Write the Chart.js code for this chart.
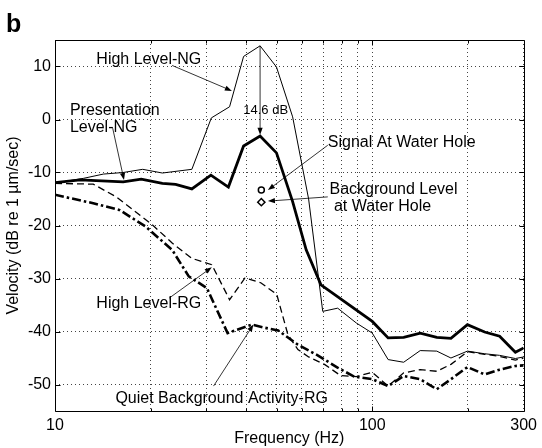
<!DOCTYPE html>
<html><head><meta charset="utf-8">
<script src="https://cdn.jsdelivr.net/npm/chart.js@4/dist/chart.umd.min.js"></script>
<style>html,body{margin:0;padding:0;background:#fff;} canvas{display:block;}</style>
</head><body>
<canvas id="c" width="542" height="448"></canvas>
<script>
// ---- axis ticks ----
const xTickValues = [10, 20, 30, 40, 50, 60, 70, 80, 90, 100, 200, 300];
const xTickLabels = {10: '10', 100: '100', 300: '300'};
const yTickValues = [-50, -40, -30, -20, -10, 0, 10];

// ---- High Level-NG (thin solid) ----
const hlngFreq = [10, 12.3, 14.2, 16.4, 18.9, 21.8, 27.0, 31.1, 35.5, 39.3, 44.3, 49.9, 56.1, 63.0, 69.8, 77.8, 89.1, 100, 112.2, 125.6, 141.6, 159.7, 177, 199.5, 226, 252, 282.5, 300];
const hlngDb   = [-12.0, -11.1, -10.3, -10.0, -9.4, -10.1, -9.4, 0.3, 2.4, 11.9, 13.9, 9.9, 0.5, -15.0, -36.2, -35.6, -38.4, -40.3, -45.3, -45.8, -43.6, -43.7, -45.0, -43.7, -44.2, -44.5, -45.1, -44.8];

// ---- Presentation Level-NG (thick solid) ----
const plngFreq = [10, 12.0, 16.4, 18.7, 21.8, 24.0, 27.0, 31.0, 35.2, 39.3, 44.3, 49.9, 56.1, 61.9, 68.9, 77.7, 100, 112.2, 125.6, 141.6, 159.7, 177, 199.5, 226, 252, 282.5, 300];
const plngDb   = [-11.9, -11.4, -11.75, -11.25, -12.05, -12.25, -13.1, -10.5, -12.75, -5.0, -3.1, -6.3, -15.5, -24.6, -31.2, -33.4, -38.1, -41.2, -41.1, -40.3, -41.1, -41.3, -38.7, -40.1, -40.9, -43.9, -43.1];

// ---- High Level-RG (dashed) ----
const hlrgFreq = [10, 13.2, 15.6, 20.3, 23.4, 27.0, 31.2, 35.5, 39.7, 44.5, 50.0, 54.2, 58.3, 63.0, 70.7, 79.4, 89.1, 100, 112.2, 125.6, 141.6, 159.7, 177, 199.5, 226, 252, 282.5, 300];
const hlrgDb   = [-12.05, -12.2, -14.6, -19.9, -23.3, -26.2, -27.4, -34.0, -29.9, -30.8, -33.0, -40.6, -43.4, -44.8, -46.2, -48.3, -48.5, -47.7, -50.3, -47.8, -47.2, -47.5, -46.2, -43.8, -44.3, -44.7, -45.4, -45.0];

// ---- Quiet Background Activity-RG (thick dash-dot) ----
const qbrgFreq = [10, 13.2, 16.0, 19.3, 23.4, 26.4, 30.1, 35.0, 41.7, 45.9, 50.5, 58.3, 67.3, 77.7, 87.6, 100, 112.2, 125.6, 141.6, 159.7, 177, 199.5, 226, 252, 282.5, 300];
const qbrgDb   = [-14.2, -15.8, -17.1, -20.2, -24.6, -29.6, -31.8, -40.3, -38.7, -39.3, -39.8, -42.5, -44.5, -46.8, -48.5, -49.0, -50.3, -48.4, -49.0, -50.9, -49.0, -46.7, -48.1, -47.2, -46.5, -46.4];

// ---- Water hole markers ----
const signalFreq = [44.7];
const signalDb = [-13.3];
const bgFreq = [44.7];
const bgDb = [-15.6];

const toXY = (fs, ds) => fs.map((f, i) => ({x: f, y: ds[i]}));

const FONT = "'Liberation Sans', Arial, Helvetica, sans-serif";
Chart.defaults.font.family = FONT;
Chart.defaults.color = '#000';

// annotations in data coordinates
const notes = [
  {lines: ['High Level-NG'], f: 13.5, db: 11.3, size: 16},
  {lines: ['Presentation', 'Level-NG'], f: 11.14, db: 1.7, size: 16},
  {lines: ['14.6 dB'], f: 39.2, db: 1.7, size: 13},
  {lines: ['Signal At Water Hole'], f: 72.4, db: -4.3, size: 16},
  {lines: ['Background Level', ' at Water Hole'], f: 73.3, db: -13.3, size: 16},
  {lines: ['High Level-RG'], f: 13.5, db: -34.8, size: 16},
  {lines: ['Quiet Background Activity-RG'], f: 15.5, db: -52.7, size: 16}
];
const arrows = [
  {from: [23.4, 10.2], to: [36.1, 5.4]},
  {from: [15.2, -1.65], to: [16.5, -11.4]},
  {from: [44.3, 13.9], to: [44.3, -2.9]},
  {from: [72.4, -4.85], to: [46.9, -13.3]},
  {from: [72.4, -14.6], to: [46.9, -15.4]},
  {from: [22.9, -33.7], to: [31.2, -27.9]},
  {from: [31.6, -50.3], to: [42.2, -38.7]}
];

const overlay = {
  id: 'overlay',
  afterDraw(chart) {
    const {ctx, chartArea: a, scales: {x, y}} = chart;
    ctx.save();
    ctx.strokeStyle = '#000';
    ctx.lineWidth = 1;
    const L = Math.round(a.left) + 0.5, R = Math.round(a.right) + 0.5;
    const T = Math.round(a.top) + 0.5, B = Math.round(a.bottom) + 0.5;
    ctx.beginPath();
    ctx.rect(L, T, R - L, B - T);
    ctx.stroke();
    // inward ticks
    ctx.beginPath();
    yTickValues.forEach(v => {
      const py = Math.round(y.getPixelForValue(v)) + 0.5;
      ctx.moveTo(L, py); ctx.lineTo(L + 5, py);
      ctx.moveTo(R, py); ctx.lineTo(R - 5, py);
    });
    xTickValues.forEach(v => {
      const px = Math.round(x.getPixelForValue(v)) + 0.5;
      const len = xTickLabels[v] ? 5 : 3;
      ctx.moveTo(px, B); ctx.lineTo(px, B - len);
      ctx.moveTo(px, T); ctx.lineTo(px, T + len);
    });
    ctx.stroke();

    // arrows
    ctx.lineWidth = 0.8;
    ctx.fillStyle = '#000';
    arrows.forEach(ar => {
      const x1 = x.getPixelForValue(ar.from[0]), y1 = y.getPixelForValue(ar.from[1]);
      const x2 = x.getPixelForValue(ar.to[0]), y2 = y.getPixelForValue(ar.to[1]);
      const ang = Math.atan2(y2 - y1, x2 - x1);
      const hl = 7, hw = 2.6;
      ctx.beginPath();
      ctx.moveTo(x1, y1);
      ctx.lineTo(x2 - Math.cos(ang) * hl * 0.8, y2 - Math.sin(ang) * hl * 0.8);
      ctx.stroke();
      ctx.beginPath();
      ctx.moveTo(x2, y2);
      ctx.lineTo(x2 - Math.cos(ang) * hl - Math.sin(ang) * hw, y2 - Math.sin(ang) * hl + Math.cos(ang) * hw);
      ctx.lineTo(x2 - Math.cos(ang) * hl + Math.sin(ang) * hw, y2 - Math.sin(ang) * hl - Math.cos(ang) * hw);
      ctx.closePath();
      ctx.fill();
    });

    // text notes
    ctx.textAlign = 'left';
    ctx.textBaseline = 'middle';
    notes.forEach(n => {
      ctx.font = n.size + 'px ' + FONT;
      const px = x.getPixelForValue(n.f);
      const py = y.getPixelForValue(n.db);
      n.lines.forEach((t, i) => ctx.fillText(t, px, py + i * n.size * 1.05));
    });

    // panel letter
    ctx.font = 'bold 25px ' + FONT;
    ctx.textBaseline = 'alphabetic';
    ctx.fillText('b', 6, 31.5);
    ctx.restore();
  }
};

new Chart(document.getElementById('c'), {
  type: 'scatter',
  data: {
    datasets: [
      {label: 'High Level-NG', data: toXY(hlngFreq, hlngDb), showLine: true, borderColor: '#000', borderWidth: 1, pointRadius: 0, tension: 0},
      {label: 'Presentation Level-NG', data: toXY(plngFreq, plngDb), showLine: true, borderColor: '#000', borderWidth: 2.8, pointRadius: 0, tension: 0},
      {label: 'High Level-RG', data: toXY(hlrgFreq, hlrgDb), showLine: true, borderColor: '#000', borderWidth: 1.3, borderDash: [7, 4], pointRadius: 0, tension: 0},
      {label: 'Quiet Background Activity-RG', data: toXY(qbrgFreq, qbrgDb), showLine: true, borderColor: '#000', borderWidth: 2.6, borderDash: [9, 3, 2.5, 3], pointRadius: 0, tension: 0},
      {label: 'Signal At Water Hole', data: toXY(signalFreq, signalDb), pointStyle: 'circle', pointRadius: 3, borderColor: '#000', borderWidth: 1.5, backgroundColor: '#fff'},
      {label: 'Background Level at Water Hole', data: toXY(bgFreq, bgDb), pointStyle: 'rectRot', pointRadius: 3.6, borderColor: '#000', borderWidth: 1.5, backgroundColor: '#fff'}
    ]
  },
  options: {
    responsive: false,
    animation: false,
    devicePixelRatio: 1,
    layout: {padding: {top: 40, right: 14, left: 0, bottom: 0}},
    plugins: {legend: {display: false}, tooltip: {enabled: false}},
    scales: {
      x: {
        type: 'logarithmic', min: 10, max: 300, position: 'bottom',
        afterBuildTicks: s => { s.ticks = xTickValues.map(v => ({value: v})); },
        afterFit: s => { s.height = 37; },
        grid: {color: '#444', lineWidth: 1, drawTicks: false},
        border: {display: false, dash: [1, 3]},
        ticks: {autoSkip: false, maxRotation: 0, padding: 5, font: {size: 16, family: FONT}, color: '#000',
          callback: v => xTickLabels[v] || ''},
        title: {display: true, text: 'Frequency (Hz)', font: {size: 16, family: FONT}, color: '#000', padding: {top: 0, bottom: 0}}
      },
      y: {
        type: 'linear', min: -55, max: 15,
        afterBuildTicks: s => { s.ticks = yTickValues.map(v => ({value: v})); },
        afterFit: s => { s.width = 55; },
        grid: {color: '#444', lineWidth: 1, drawTicks: false},
        border: {display: false, dash: [1, 3]},
        ticks: {padding: 4, font: {size: 16, family: FONT}, color: '#000'},
        title: {display: true, text: 'Velocity (dB re 1 µm/sec)', font: {size: 16, family: FONT}, color: '#000', padding: {top: 4, bottom: 0}}
      }
    }
  },
  plugins: [overlay]
});
</script>
</body></html>
